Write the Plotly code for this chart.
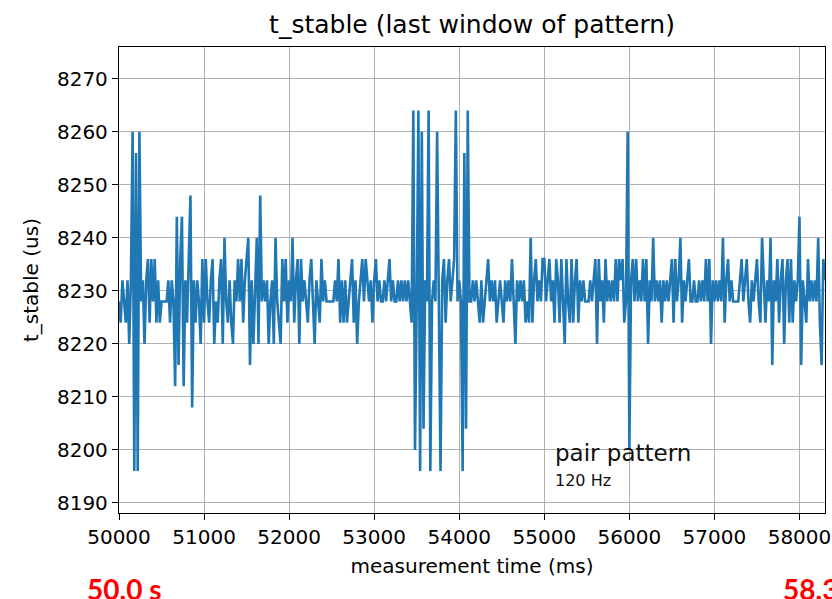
import plotly.graph_objects as go

# ---- data ----
T0_MS = 50000          # first sample time (ms)
STEP_MS = 20           # sample period (ms)

t_stable_us = [
    # 50000 - 50480
    8228, 8224, 8232, 8228, 8224, 8232, 8220, 8232, 8260, 8196, 8256, 8196, 8260, 8228, 8232, 8220, 8232, 8236, 8224, 8236, 8228, 8236, 8224, 8232, 8224,
    # 50500 - 50980
    8228, 8228, 8228, 8228, 8232, 8224, 8232, 8228, 8212, 8244, 8216, 8236, 8244, 8212, 8232, 8224, 8236, 8248, 8208, 8232, 8224, 8232, 8228, 8220, 8236,
    # 51000 - 51480
    8224, 8236, 8228, 8224, 8232, 8236, 8220, 8228, 8224, 8232, 8236, 8220, 8240, 8228, 8224, 8232, 8224, 8220, 8232, 8228, 8236, 8228, 8236, 8224, 8232,
    # 51500 - 51980
    8236, 8240, 8216, 8232, 8220, 8232, 8240, 8220, 8248, 8228, 8232, 8228, 8232, 8220, 8228, 8232, 8220, 8240, 8228, 8224, 8220, 8236, 8228, 8236, 8224,
    # 52000 - 52480
    8232, 8228, 8240, 8224, 8232, 8236, 8220, 8236, 8228, 8232, 8228, 8224, 8232, 8236, 8228, 8220, 8232, 8228, 8224, 8236, 8228, 8232, 8228, 8228, 8228,
    # 52500 - 52980
    8228, 8228, 8232, 8228, 8236, 8224, 8232, 8224, 8232, 8224, 8228, 8232, 8236, 8224, 8232, 8220, 8228, 8232, 8236, 8228, 8236, 8232, 8228, 8232, 8224,
    # 53000 - 53480
    8232, 8236, 8228, 8232, 8228, 8228, 8232, 8228, 8232, 8236, 8228, 8232, 8228, 8228, 8232, 8228, 8232, 8228, 8232, 8228, 8232, 8228, 8224, 8264, 8200,
    # 53500 - 53980
    8228, 8264, 8196, 8260, 8204, 8232, 8228, 8264, 8196, 8228, 8232, 8228, 8260, 8232, 8196, 8232, 8236, 8224, 8232, 8236, 8228, 8232, 8236, 8264, 8228,
    # 54000 - 54480
    8232, 8228, 8196, 8256, 8204, 8264, 8228, 8228, 8232, 8228, 8232, 8228, 8224, 8232, 8224, 8228, 8232, 8236, 8228, 8232, 8228, 8232, 8224, 8228, 8232,
    # 54500 - 54980
    8228, 8224, 8232, 8228, 8232, 8228, 8236, 8228, 8220, 8232, 8228, 8232, 8228, 8232, 8224, 8228, 8224, 8240, 8224, 8232, 8236, 8228, 8232, 8228, 8236,
    # 55000 - 55480
    8236, 8228, 8232, 8236, 8228, 8232, 8224, 8236, 8232, 8224, 8236, 8228, 8220, 8236, 8228, 8224, 8236, 8224, 8232, 8236, 8224, 8232, 8228, 8232, 8228,
    # 55500 - 55980
    8228, 8228, 8232, 8228, 8232, 8236, 8220, 8236, 8228, 8232, 8224, 8236, 8228, 8232, 8228, 8232, 8228, 8236, 8228, 8236, 8232, 8236, 8224, 8228, 8260,
    # 56000 - 56480
    8200, 8232, 8236, 8228, 8236, 8228, 8232, 8228, 8236, 8228, 8236, 8220, 8232, 8228, 8240, 8228, 8232, 8228, 8232, 8224, 8232, 8228, 8232, 8228, 8232,
    # 56500 - 56980
    8236, 8224, 8236, 8228, 8232, 8240, 8224, 8232, 8228, 8232, 8236, 8228, 8228, 8232, 8228, 8228, 8232, 8228, 8232, 8228, 8236, 8228, 8236, 8220, 8232,
    # 57000 - 57480
    8228, 8232, 8228, 8232, 8228, 8240, 8224, 8232, 8236, 8228, 8232, 8228, 8228, 8228, 8228, 8232, 8236, 8228, 8232, 8236, 8228, 8224, 8232, 8228, 8232,
    # 57500 - 57980
    8236, 8228, 8224, 8240, 8232, 8224, 8232, 8228, 8240, 8216, 8232, 8228, 8236, 8224, 8232, 8236, 8220, 8232, 8236, 8224, 8236, 8224, 8232, 8228, 8232,
    # 58000 - 58300
    8244, 8216, 8232, 8228, 8224, 8236, 8228, 8232, 8228, 8232, 8228, 8240, 8224, 8216, 8236, 8232,
]
time_ms = [T0_MS + STEP_MS * k for k in range(len(t_stable_us))]

x_range = [50000, 58300]
y_range = [8188.1, 8276]
title_text = "t_stable (last window of pattern)"
x_title = "measurement time (ms)"
y_title = "t_stable (us)"
note_main = "pair pattern"
note_sub = "120 Hz"
left_label = "50.0 s"
right_label = "58.3 s"

FONT = "DejaVu Sans"

fig = go.Figure()
fig.add_trace(go.Scatter(
    x=time_ms, y=t_stable_us, mode="lines",
    line=dict(color="#1f77b4", width=2.6),
    showlegend=False,
))

axis_common = dict(
    showline=True, linecolor="black", linewidth=1.3, mirror=True,
    ticks="outside", ticklen=6, tickwidth=1.3, tickcolor="black",
    showgrid=True, gridcolor="#b0b0b0", gridwidth=1.4,
    zeroline=False,
    ticklabeloverflow="allow",
    tickfont=dict(family=FONT, size=20, color="black"),
)

fig.update_layout(
    width=832, height=599,
    margin=dict(l=119, r=1, t=47, b=86),
    paper_bgcolor="white", plot_bgcolor="white",
    title=dict(text=title_text, x=0.5, xref="paper", xanchor="center",
               y=1 - 24 / 599, yanchor="middle",
               font=dict(family=FONT, size=25, color="black")),
    xaxis=dict(range=x_range, dtick=1000, tick0=50000, tickformat="d",
               title=dict(text=x_title, standoff=10,
                          font=dict(family=FONT, size=20, color="black")),
               **axis_common),
    yaxis=dict(range=y_range, dtick=10, tick0=8190, tickformat="d",
               title=dict(text=y_title, standoff=12,
                          font=dict(family=FONT, size=20, color="black")),
               **axis_common),
    annotations=[
        dict(x=55100, y=8199.4, xref="x", yref="y", text=note_main,
             showarrow=False, xanchor="left", yanchor="middle",
             font=dict(family=FONT, size=23, color="#111111")),
        dict(x=55100, y=8194.3, xref="x", yref="y", text=note_sub,
             showarrow=False, xanchor="left", yanchor="middle",
             font=dict(family=FONT, size=16, color="#111111")),
        dict(x=(85 - 119) / 712, y=(513 - 589) / 466, xref="paper", yref="paper",
             text="<b>" + left_label + "</b>", showarrow=False,
             xanchor="left", yanchor="middle",
             font=dict(family="Lato", size=28, color="#ff0000")),
        dict(x=(787 - 119) / 712, y=(513 - 589) / 466, xref="paper", yref="paper",
             text="<b>" + right_label + "</b>", showarrow=False,
             xanchor="left", yanchor="middle",
             font=dict(family="Lato", size=28, color="#ff0000")),
    ],
)

fig.write_html("out.html")
